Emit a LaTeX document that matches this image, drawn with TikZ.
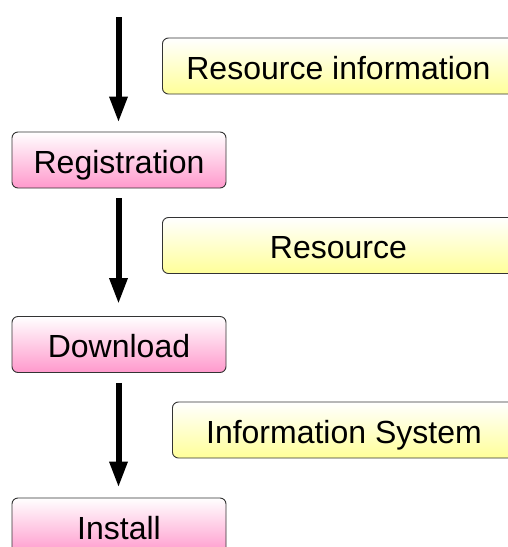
\documentclass[tikz,border=0pt]{standalone}
\usepackage{fontspec}
\setmainfont{Liberation Sans}
\usetikzlibrary{arrows.meta}
\definecolor{pinkbot}{HTML}{FF99CC}
\definecolor{yelbot}{HTML}{FFFF99}
\definecolor{edge}{HTML}{333333}
\tikzset{
  stepbox/.style={draw=edge, line width=0.9pt, rounded corners=6pt,
    top color=white, bottom color=pinkbot, minimum width=214pt,
    minimum height=56pt, inner sep=0pt, text height=26pt, text depth=0pt,
    font=\fontsize{32}{38}\selectfont},
  infobox/.style={draw=edge, line width=0.9pt, rounded corners=6pt,
    top color=white, bottom color=yelbot, minimum height=56pt,
    inner sep=0pt, anchor=west, text height=26pt, text depth=0pt,
    font=\fontsize{32}{38}\selectfont},
  flow/.style={line width=6pt, -{Triangle[width=17pt,length=26pt]}}
}
\begin{document}
\begin{tikzpicture}[x=1pt,y=-1pt]
\useasboundingbox (0,0) rectangle (508,547);
\clip (0,0) rectangle (508,547);
\node[stepbox] (reg) at (119,160) {Registration};
\node[stepbox] (down) at (119,344.5) {Download};
\node[stepbox] (inst) at (119,526) {Install};
\node[infobox, minimum width=352pt] (rinfo) at (162,66) {Resource information};
\node[infobox, minimum width=352pt] (res) at (162,245.5) {Resource};
\node[infobox, minimum width=343pt] (isys) at (172,430) {Information System};
\coordinate (start) at (118.5,17);
\draw[flow, shorten >=9pt] (start) -- (start |- reg.north);
\draw[flow, shorten <=10pt, shorten >=12pt] (reg.south -| start) -- (down.north -| start);
\draw[flow, shorten <=10pt, shorten >=10pt] (down.south -| start) -- (inst.north -| start);
\end{tikzpicture}
\end{document}
